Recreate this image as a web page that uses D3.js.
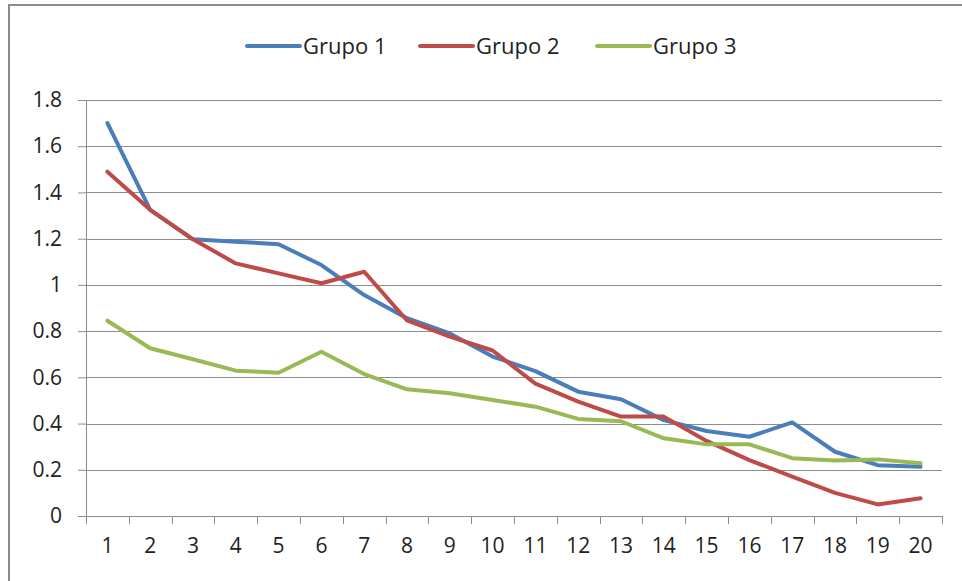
<!DOCTYPE html>
<html>
<head>
<meta charset="utf-8">
<script src="https://cdn.jsdelivr.net/npm/d3@7"></script>
<style>
  body { margin: 0; background: #fff; }
  text { font-family: "Open Sans", "Liberation Sans", sans-serif; fill: #222; }
</style>
</head>
<body>
<div id="chart"></div>
<script>
const categories = d3.range(1, 21).map(String);
const grupo1 = [1.70, 1.325, 1.197, 1.187, 1.176, 1.086, 0.956, 0.856, 0.79, 0.69, 0.627, 0.538, 0.505, 0.415, 0.368, 0.343, 0.405, 0.278, 0.22, 0.213];
const grupo2 = [1.49, 1.325, 1.197, 1.093, 1.05, 1.007, 1.057, 0.846, 0.776, 0.716, 0.573, 0.495, 0.43, 0.43, 0.325, 0.242, 0.17, 0.10, 0.05, 0.077];
const grupo3 = [0.845, 0.726, 0.678, 0.629, 0.62, 0.711, 0.614, 0.548, 0.531, 0.502, 0.473, 0.42, 0.41, 0.336, 0.31, 0.31, 0.25, 0.24, 0.245, 0.228];
const seriesNames = ["Grupo 1", "Grupo 2", "Grupo 3"];
const yTicks = [0, 0.2, 0.4, 0.6, 0.8, 1, 1.2, 1.4, 1.6, 1.8];

const colors = ["#4a7ebb", "#be4b48", "#98b954"];
const series = [grupo1, grupo2, grupo3].map((vals, i) => ({ name: seriesNames[i], values: vals, color: colors[i] }));

const W = 962, H = 581;
const margin = { top: 100, right: 20, bottom: 65, left: 86 };
const width = 942 - margin.left;
const height = 516 - margin.top;

const root = d3.select("#chart").append("svg")
    .attr("width", W)
    .attr("height", H);

// outer frame (top and left edges visible)
root.append("path")
    .attr("d", `M9,${H + 5} L9,5 L${W + 5},5`)
    .attr("fill", "none")
    .attr("stroke", "#8c8c8c")
    .attr("stroke-width", 2);

const svg = root.append("g")
    .attr("transform", `translate(${margin.left},${margin.top})`);

const x = d3.scaleBand().domain(categories).range([0, width]);
const y = d3.scaleLinear().domain([0, 1.8]).range([height, 0]);

// gridlines
svg.selectAll(".grid")
    .data(yTicks)
    .enter().append("line")
    .attr("x1", 0).attr("x2", width)
    .attr("y1", d => Math.round(y(d)) + 0.5)
    .attr("y2", d => Math.round(y(d)) + 0.5)
    .attr("stroke", "#8c8c8c");

// y axis
const yAxis = svg.append("g")
    .call(d3.axisLeft(y).tickValues(yTicks).tickFormat(d => d3.format("")(d)).tickSize(8).tickPadding(16));
yAxis.select(".domain").attr("stroke", "#8c8c8c");
yAxis.selectAll(".tick line").attr("stroke", "#8c8c8c");
yAxis.selectAll("text").style("font-size", "21px").attr("fill", "#222");

// x axis: ticks on band boundaries
const xAxis = svg.append("g")
    .attr("transform", `translate(0,${height})`)
    .call(d3.axisBottom(x).tickSize(0).tickPadding(22));
xAxis.select(".domain").attr("stroke", "#8c8c8c");
xAxis.selectAll("text").style("font-size", "21px").attr("fill", "#222");
svg.append("g").selectAll("line")
    .data(d3.range(categories.length + 1))
    .enter().append("line")
    .attr("x1", i => Math.round(i * x.step()) + 0.5)
    .attr("x2", i => Math.round(i * x.step()) + 0.5)
    .attr("y1", height).attr("y2", height + 8)
    .attr("stroke", "#8c8c8c");

// lines
const line = d3.line()
    .x((d, i) => x(categories[i]) + x.bandwidth() / 2)
    .y(d => y(d));

svg.selectAll(".series")
    .data(series)
    .enter().append("path")
    .attr("class", "series")
    .attr("d", d => line(d.values))
    .attr("fill", "none")
    .attr("stroke", d => d.color)
    .attr("stroke-width", 4)
    .attr("stroke-linejoin", "round")
    .attr("stroke-linecap", "round");

// legend
const legendX = [247, 420, 597];
const legend = root.append("g");
series.forEach((s, i) => {
    legend.append("line")
        .attr("x1", legendX[i]).attr("x2", legendX[i] + 53)
        .attr("y1", 46).attr("y2", 46)
        .attr("stroke", s.color)
        .attr("stroke-width", 4)
        .attr("stroke-linecap", "round");
    legend.append("text")
        .attr("x", legendX[i] + 56)
        .attr("y", 46)
        .attr("dy", "0.35em")
        .style("font-size", "22px")
        .text(s.name);
});
</script>
</body>
</html>
